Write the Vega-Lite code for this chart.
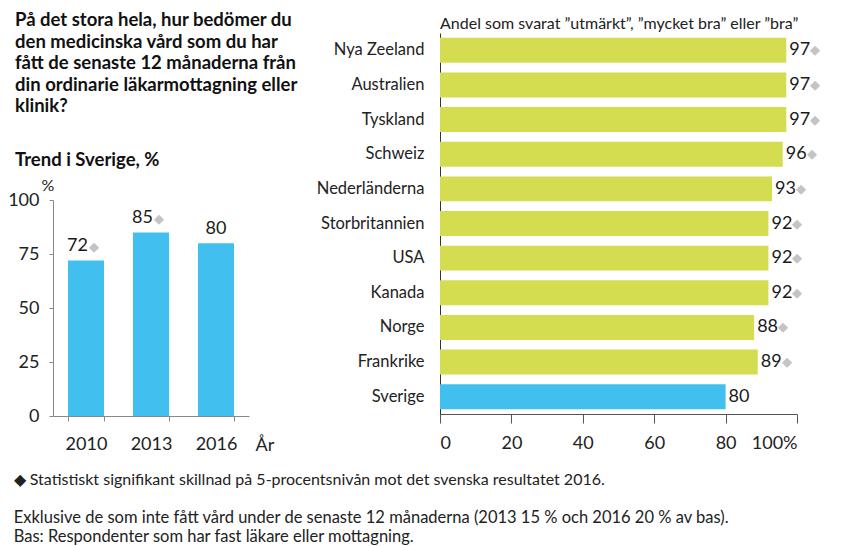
{
  "$schema": "https://vega.github.io/schema/vega-lite/v6.json",
  "background": "white",
  "padding": {"left": 7, "top": -12, "right": 5, "bottom": 5},
  "config": {
    "font": "Lato",
    "view": {"stroke": null},
    "axis": {"labelColor": "#222", "titleColor": "#222", "grid": false, "labelFontSize": 18, "titleFontSize": 18, "titleFontWeight": "normal"},
    "text": {"color": "#1a1a1a", "fontSize": 18}
  },
  "title": {
    "text": ["◆ Statistiskt signifikant skillnad på 5-procentsnivån mot det svenska resultatet 2016."],
    "subtitle": ["\u00a0\u00a0\u00a0Exklusive de som inte fått vård under de senaste 12 månaderna (2013 15 % och 2016 20 % av bas).", "\u00a0\u00a0\u00a0Bas: Respondenter som har fast läkare eller mottagning."],
    "orient": "bottom",
    "anchor": "start",
    "fontSize": 16,
    "fontWeight": "normal",
    "color": "#222",
    "subtitleFontSize": 16.5,
    "subtitleColor": "#222",
    "subtitlePadding": 22,
    "subtitleLineHeight": 19,
    "offset": 18,
    "dx": 6
  },
  "spacing": 18,
  "hconcat": [
    {"spacing": 8, "align": "none", "vconcat": [
      {
        "width": 196,
        "height": 0,
        "data": {"values": []},
        "mark": {"type": "rule"},
        "encoding": {},
        "title": {
          "text": ["På det stora hela, hur bedömer du", "den medicinska vård som du har", "fått de senaste 12 månaderna från", "din ordinarie läkarmottagning eller", "klinik?"],
          "subtitle": "Trend i Sverige, %",
          "orient": "bottom",
          "anchor": "start",
          "frame": "group",
          "fontSize": 18.5,
          "fontWeight": "bold",
          "lineHeight": 21.5,
          "color": "#111",
          "subtitleFontSize": 18.5,
          "subtitleFontWeight": "bold",
          "subtitleColor": "#111",
          "subtitlePadding": 35,
          "offset": 3,
          "dx": -38
        }
      },
      {
        "width": 196,
        "height": 216,
        "data": {"values": [
          {"year": "2010", "value": 72, "sig": true},
          {"year": "2013", "value": 85, "sig": true},
          {"year": "2016", "value": 80, "sig": false}
        ]},
        "encoding": {
          "x": {"field": "year", "type": "nominal", "sort": null,
            "scale": {"paddingInner": 0.446, "paddingOuter": 0.23},
            "axis": {"title": "År", "titleX": 202, "titleY": 34, "titleAlign": "left", "titleBaseline": "alphabetic",
              "labelAngle": 0, "tickBand": "extent", "domainColor": "#888", "tickColor": "#888", "tickSize": 5, "labelPadding": 14}},
          "y": {"field": "value", "type": "quantitative", "scale": {"domain": [0, 100]},
            "axis": {"values": [0, 25, 50, 75, 100], "title": "%", "titleAngle": 0, "titleX": -12, "titleY": -10,
              "titleAlign": "left", "titleBaseline": "alphabetic", "titleFontSize": 16,
              "domainColor": "#888", "tickColor": "#888", "tickSize": 4, "labelPadding": 10}}
        },
        "layer": [
          {"mark": {"type": "bar", "color": "#41BFEE"}},
          {"transform": [{"filter": "!datum.sig"}],
            "mark": {"type": "text", "align": "center", "baseline": "alphabetic", "dy": -9},
            "encoding": {"text": {"field": "value"}}},
          {"transform": [{"filter": "datum.sig"}],
            "mark": {"type": "text", "align": "right", "baseline": "alphabetic", "dy": -9, "dx": 2},
            "encoding": {"text": {"field": "value"}}},
          {"transform": [{"filter": "datum.sig"}],
            "mark": {"type": "text", "align": "left", "baseline": "alphabetic", "dy": -9, "dx": 3, "text": "◆", "fontSize": 13, "color": "#C4C4C4"}}
        ]
      }
    ]},
    {"spacing": 1, "align": "none", "vconcat": [
      {
        "width": 357,
        "height": 0,
        "data": {"values": []},
        "mark": {"type": "rule"},
        "encoding": {},
        "title": {
          "text": "Andel som svarat ”utmärkt”, ”mycket bra” eller ”bra”",
          "orient": "bottom",
          "anchor": "start",
          "frame": "group",
          "fontSize": 16,
          "fontWeight": "normal",
          "color": "#222",
          "offset": 8
        }
      },
      {
        "width": 357,
        "height": 381,
        "data": {"values": [
          {"country": "Nya Zeeland", "value": 97, "sig": true},
          {"country": "Australien", "value": 97, "sig": true},
          {"country": "Tyskland", "value": 97, "sig": true},
          {"country": "Schweiz", "value": 96, "sig": true},
          {"country": "Nederländerna", "value": 93, "sig": true},
          {"country": "Storbritannien", "value": 92, "sig": true},
          {"country": "USA", "value": 92, "sig": true},
          {"country": "Kanada", "value": 92, "sig": true},
          {"country": "Norge", "value": 88, "sig": true},
          {"country": "Frankrike", "value": 89, "sig": true},
          {"country": "Sverige", "value": 80, "sig": false}
        ]},
        "encoding": {
          "y": {"field": "country", "type": "nominal", "sort": null,
            "scale": {"paddingInner": 0.28, "paddingOuter": 0.14},
            "axis": {"title": null, "ticks": false, "tickSize": 0, "labelPadding": 16, "labelFontSize": 16.5, "domainColor": "#333"}},
          "x": {"field": "value", "type": "quantitative", "scale": {"domain": [0, 100]},
            "axis": {"values": [0, 20, 40, 60, 80, 100], "labelExpr": "datum.value == 100 ? '100%' : datum.label",
              "title": null, "tickSize": 9, "labelPadding": 11, "domainColor": "#555", "tickColor": "#555"}}
        },
        "layer": [
          {"mark": {"type": "bar"},
            "encoding": {"color": {"condition": {"test": "datum.country === 'Sverige'", "value": "#41BFEE"}, "value": "#D4DC50"}}},
          {"mark": {"type": "text", "align": "left", "baseline": "middle", "dx": 3},
            "encoding": {"text": {"field": "value"}}},
          {"transform": [{"filter": "datum.sig"}],
            "mark": {"type": "text", "align": "left", "baseline": "middle", "dx": 24, "text": "◆", "fontSize": 13, "color": "#C4C4C4"}}
        ]
      }
    ]}
  ]
}
